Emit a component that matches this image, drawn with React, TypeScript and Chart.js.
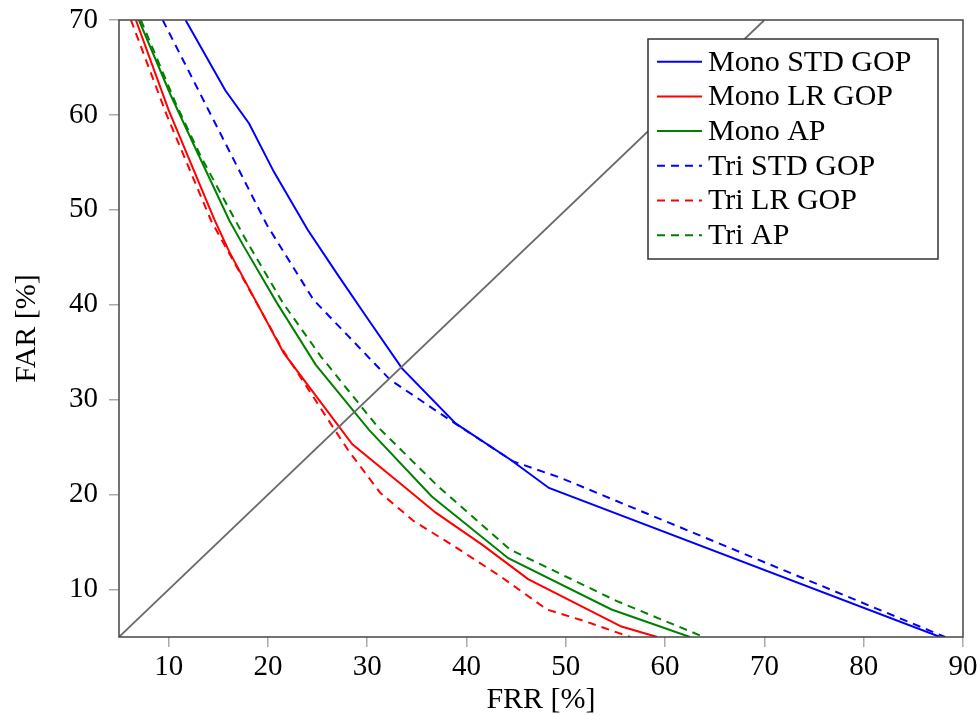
import React, { useEffect, useRef } from "react";
import { Chart, registerables } from "chart.js";

Chart.register(...registerables);

// ---- data (FRR %, FAR %) ----
const monoStdFrr = [11.7, 15.7, 18.1, 20.6, 24.0, 27.0, 30.0, 33.5, 38.9, 44.4, 48.3, 87.7];
const monoStdFar = [70, 62.6, 59.1, 54.0, 47.9, 43.2, 38.6, 33.3, 27.5, 23.7, 20.7, 5];

const monoLrFrr = [6.7, 10.0, 14.6, 16.1, 21.6, 28.5, 33.3, 36.9, 41.6, 46.2, 55.6, 59.2];
const monoLrFar = [70, 60.5, 49.0, 45.6, 34.9, 25.3, 21.2, 18.1, 14.7, 11.1, 6.1, 5];

const monoApFrr = [7.0, 10.2, 13.0, 16.1, 17.6, 20.9, 24.8, 30.2, 36.5, 44.2, 54.6, 62.5];
const monoApFar = [70, 62.1, 55.8, 48.9, 46.1, 40.2, 33.7, 26.8, 19.8, 13.3, 7.9, 5];

const triStdFrr = [9.4, 14.6, 19.9, 24.6, 28.0, 32.3, 38.7, 44.7, 49.4, 88.2];
const triStdFar = [70, 59.3, 48.4, 40.5, 36.8, 32.1, 27.6, 23.5, 21.8, 5];

const triLrFrr = [6.2, 9.8, 14.3, 21.4, 26.8, 28.2, 31.3, 34.7, 38.7, 43.4, 48.1, 51.8, 56.5];
const triLrFar = [70, 60.0, 48.8, 35.4, 26.7, 24.5, 20.2, 17.2, 14.6, 11.4, 7.9, 6.7, 5];

const triApFrr = [7.2, 10.8, 13.3, 17.8, 21.5, 25.3, 31.0, 37.0, 44.4, 55.1, 63.9];
const triApFar = [70, 61.0, 55.5, 46.8, 40.2, 34.6, 27.2, 21.0, 14.2, 8.8, 5];

const diagFrr = [5, 70];
const diagFar = [5, 70];

const xTicks = [10, 20, 30, 40, 50, 60, 70, 80, 90];
const yTicks = [10, 20, 30, 40, 50, 60, 70];

const FONT = "'Liberation Serif', 'Times New Roman', serif";

const pts = (xs: number[], ys: number[]) => xs.map((x, i) => ({ x, y: ys[i] }));

const frameAndLegend = {
  id: "frameAndLegend",
  afterDatasetsDraw(chart: any) {
    const { ctx, chartArea } = chart;
    ctx.save();
    ctx.strokeStyle = "#444";
    ctx.lineWidth = 1.5;
    ctx.strokeRect(chartArea.left, chartArea.top, chartArea.right - chartArea.left, chartArea.bottom - chartArea.top);

    // legend box
    const bx = 648, by = 39, bw = 290, bh = 220;
    ctx.fillStyle = "#fff";
    ctx.fillRect(bx, by, bw, bh);
    ctx.strokeStyle = "#333";
    ctx.lineWidth = 1.5;
    ctx.strokeRect(bx, by, bw, bh);

    const items = chart.data.datasets.filter((d: any) => d.label);
    const rowH = 34.7;
    const y0 = 61.7;
    ctx.font = `30px ${FONT}`;
    ctx.textBaseline = "middle";
    ctx.textAlign = "left";
    items.forEach((d: any, i: number) => {
      const y = y0 + i * rowH;
      ctx.beginPath();
      ctx.strokeStyle = d.borderColor;
      ctx.lineWidth = d.borderWidth;
      ctx.setLineDash(d.borderDash || []);
      ctx.moveTo(657, y);
      ctx.lineTo(702, y);
      ctx.stroke();
      ctx.setLineDash([]);
      ctx.fillStyle = "#000";
      ctx.fillText(d.label, 708, y + 1);
    });
    ctx.restore();
  },
};

export default function App() {
  const ref = useRef<HTMLCanvasElement | null>(null);

  useEffect(() => {
    if (!ref.current) return;
    const dash = [8, 6];
    const mk = (label: string, xs: number[], ys: number[], color: string, dashed: boolean) => ({
      label,
      data: pts(xs, ys),
      borderColor: color,
      backgroundColor: color,
      borderWidth: 2,
      borderDash: dashed ? dash : [],
      pointRadius: 0,
      tension: 0,
      fill: false,
    });
    const chart = new Chart(ref.current, {
      type: "line",
      data: {
        datasets: [
          {
            label: "",
            data: pts(diagFrr, diagFar),
            borderColor: "#6a6a6a",
            borderWidth: 1.8,
            pointRadius: 0,
            fill: false,
          } as any,
          mk("Mono STD GOP", monoStdFrr, monoStdFar, "#0000ff", false),
          mk("Mono LR GOP", monoLrFrr, monoLrFar, "#ff0000", false),
          mk("Mono AP", monoApFrr, monoApFar, "#008000", false),
          mk("Tri STD GOP", triStdFrr, triStdFar, "#0000ff", true),
          mk("Tri LR GOP", triLrFrr, triLrFar, "#ff0000", true),
          mk("Tri AP", triApFrr, triApFar, "#008000", true),
        ],
      },
      options: {
        responsive: false,
        animation: false,
        layout: { padding: { top: 20, right: 17, left: 0, bottom: 0 } },
        plugins: { legend: { display: false }, tooltip: { enabled: false } },
        scales: {
          x: {
            type: "linear",
            min: 5,
            max: 90,
            afterBuildTicks: (s: any) => {
              s.ticks = xTicks.map((v) => ({ value: v }));
            },
            afterFit: (s: any) => {
              s.height = 78;
              s.paddingLeft = 0;
              s.paddingRight = 0;
            },
            grid: { drawOnChartArea: false, drawTicks: true, tickLength: 10, color: "#aaa", lineWidth: 1.5 },
            border: { display: false },
            ticks: { font: { family: FONT, size: 29 }, color: "#000", padding: 3, maxRotation: 0 },
            title: {
              display: true,
              text: "FRR [%]",
              font: { family: FONT, size: 30, lineHeight: 1 },
              color: "#000",
              padding: { top: 0, bottom: 0 },
            },
          },
          y: {
            type: "linear",
            min: 5,
            max: 70,
            afterBuildTicks: (s: any) => {
              s.ticks = yTicks.map((v) => ({ value: v }));
            },
            afterFit: (s: any) => {
              s.width = 119;
              s.paddingTop = 0;
              s.paddingBottom = 0;
            },
            grid: { drawOnChartArea: false, drawTicks: true, tickLength: 10, color: "#aaa", lineWidth: 1.5 },
            border: { display: false },
            ticks: { font: { family: FONT, size: 29 }, color: "#000", padding: 11 },
            title: {
              display: true,
              text: "FAR [%]",
              font: { family: FONT, size: 30, lineHeight: 1 },
              color: "#000",
              padding: { top: 12, bottom: 0 },
            },
          },
        },
      },
      plugins: [frameAndLegend],
    } as any);
    return () => chart.destroy();
  }, []);

  return (
    <div style={{ position: "absolute", left: 0, top: 0, width: 980, height: 715, background: "#fff" }}>
      <canvas ref={ref} width={980} height={715} />
    </div>
  );
}
